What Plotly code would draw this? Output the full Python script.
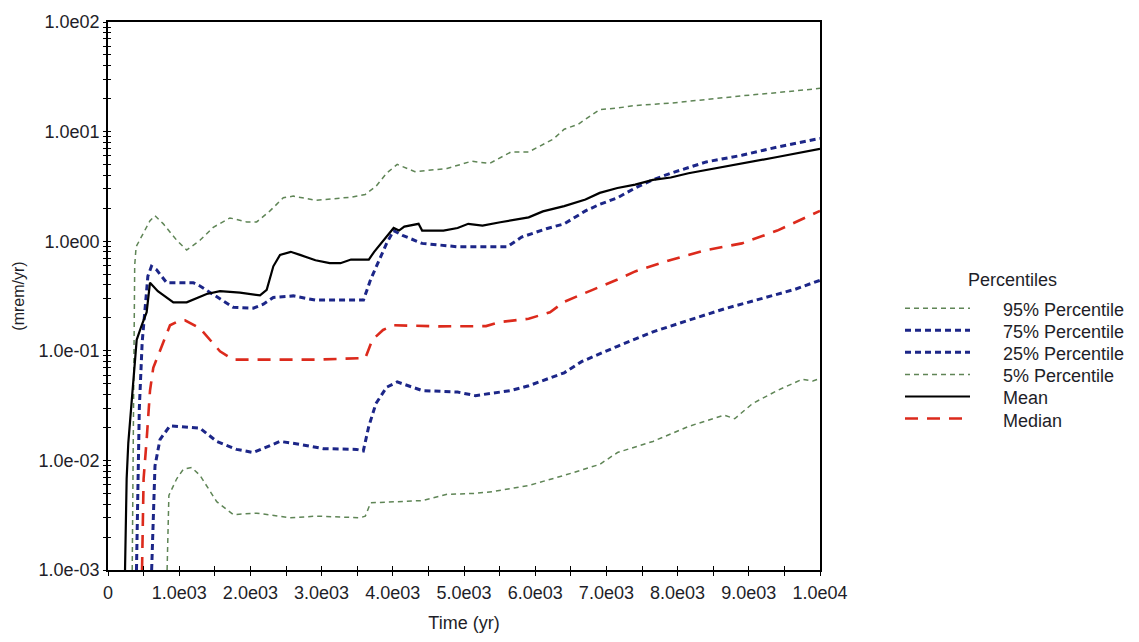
import plotly.graph_objects as go

# ---- dose curves (time in years, dose in mrem/yr) ----
t_p95 = [340, 355, 365, 375, 395, 492, 590, 660, 777, 965, 1105, 1292, 1479, 1713, 1948, 2088,
         2275, 2462, 2603, 2914, 3413, 3613, 3763, 3913, 4062, 4312, 4761, 5110, 5359, 5658,
         5908, 6257, 6407, 6607, 6906, 7155, 7404, 7904, 8403, 8902, 9400, 10000]
p95 = [0.001, 0.03, 0.2, 0.6, 0.89, 1.17, 1.54, 1.71, 1.44, 1.02, 0.83, 1.02, 1.34, 1.63, 1.50, 1.50,
       1.89, 2.49, 2.58, 2.36, 2.52, 2.67, 3.16, 4.17, 5.02, 4.31, 4.61, 5.37, 5.12, 6.51,
       6.51, 8.57, 10.5, 11.7, 15.9, 16.4, 17.3, 18.2, 19.8, 21.2, 22.7, 24.8]

t_p75 = [400, 440, 480, 520, 560, 610, 680, 824, 1198, 1292, 1573, 1760, 2041, 2182, 2322, 2603,
         2914, 3413, 3588, 3688, 3813, 3913, 4012, 4137, 4412, 4910, 5608, 5808, 6157, 6407,
         6706, 6906, 7155, 7404, 7654, 7904, 8403, 8902, 9400, 10000]
p75 = [0.001, 0.03, 0.12, 0.25, 0.48, 0.59, 0.55, 0.418, 0.418, 0.39, 0.296, 0.249, 0.245, 0.266, 0.307, 0.317,
       0.29, 0.29, 0.29, 0.447, 0.675, 0.955, 1.25, 1.13, 0.955, 0.89, 0.89, 1.09, 1.30, 1.44,
       1.89, 2.17, 2.49, 3.06, 3.63, 4.17, 5.29, 6.08, 7.22, 8.67]

t_p25 = [613, 660, 730, 871, 1292, 1527, 1807, 2041, 2416, 2697, 3024, 3492, 3586, 3663, 3763,
         3913, 4062, 4412, 4910, 5160, 5659, 5908, 6407, 6657, 7156, 7654, 8153, 8652, 9151,
         9650, 10000]
p25 = [0.001, 0.0089, 0.0155, 0.0207, 0.0197, 0.0149, 0.0126, 0.0118, 0.0149, 0.014, 0.0128, 0.0126,
       0.0122, 0.0205, 0.033, 0.0465, 0.052, 0.0434, 0.042, 0.039, 0.0434, 0.048, 0.063, 0.080,
       0.11, 0.149, 0.19, 0.241, 0.296, 0.364, 0.44]

t_p05 = [830, 855, 965, 1058, 1175, 1292, 1527, 1760, 2088, 2556, 2931, 3539, 3614, 3688, 4054,
         4412, 4761, 5160, 5409, 5908, 6407, 6906, 7156, 7654, 8153, 8652, 8802, 9052, 9400,
         9750, 9900, 10000]
p05 = [0.001, 0.0048, 0.0068, 0.0083, 0.0086, 0.0073, 0.0042, 0.0032, 0.0033, 0.003, 0.0031, 0.003,
       0.0031, 0.0041, 0.0042, 0.0043, 0.0049, 0.005, 0.0052, 0.0059, 0.0073, 0.0092, 0.0118,
       0.0149, 0.0204, 0.0259, 0.024, 0.033, 0.0434, 0.055, 0.053, 0.056]

t_mean = [239, 262, 285, 333, 403, 473, 543, 590, 700, 918, 1105, 1386, 1573, 1854, 2135, 2229,
          2322, 2416, 2566, 2697, 2914, 3114, 3264, 3413, 3613, 3663, 3738, 3913, 4012, 4087,
          4162, 4362, 4412, 4711, 4910, 5060, 5260, 5509, 5908, 6108, 6407, 6706, 6906, 7155,
          7404, 7654, 7904, 8153, 8403, 8902, 9400, 10000]
mean = [0.001, 0.0068, 0.0144, 0.035, 0.126, 0.171, 0.225, 0.418, 0.35, 0.277, 0.277, 0.33, 0.35,
        0.34, 0.32, 0.36, 0.59, 0.75, 0.80, 0.75, 0.67, 0.63, 0.63, 0.68, 0.675, 0.68, 0.80, 1.09,
        1.32, 1.25, 1.36, 1.44, 1.25, 1.25, 1.32, 1.44, 1.39, 1.49, 1.65, 1.87, 2.09, 2.40, 2.76,
        3.06, 3.28, 3.63, 3.81, 4.17, 4.46, 5.12, 5.86, 6.97]

t_median = [478, 500, 543, 590, 636, 777, 871, 1011, 1081, 1292, 1573, 1760, 2603, 2914, 3614,
            3713, 3863, 4012, 4660, 5309, 5510, 5908, 6208, 6407, 6806, 7156, 7404, 7705, 7904,
            8403, 8902, 9400, 10000]
median = [0.001, 0.0068, 0.0155, 0.0434, 0.07, 0.121, 0.171, 0.19, 0.19, 0.16, 0.099, 0.083, 0.083,
          0.083, 0.086, 0.126, 0.155, 0.171, 0.167, 0.168, 0.183, 0.196, 0.225, 0.28, 0.36, 0.447,
          0.53, 0.61, 0.675, 0.83, 0.955, 1.25, 1.89]

# ---- axis ticks ----
x_ticks = [0, 1000, 2000, 3000, 4000, 5000, 6000, 7000, 8000, 9000, 10000]
x_labels = ["0", "1.0e03", "2.0e03", "3.0e03", "4.0e03", "5.0e03", "6.0e03", "7.0e03",
            "8.0e03", "9.0e03", "1.0e04"]
y_ticks = [1e-3, 1e-2, 1e-1, 1e0, 1e1, 1e2]
y_labels = ["1.0e-03", "1.0e-02", "1.0e-01", "1.0e00", "1.0e01", "1.0e02"]

x_minor = [v + 500 for v in x_ticks[:-1]]
y_minor = [k * d for d in y_ticks[:-1] for k in range(2, 10)]

# ---- figure geometry (pixels) ----
W, H = 1139, 642
ML, MR, MT, MB = 108, 319, 14, 69
PW, PH = W - ML - MR, H - MT - MB

FONT = "Liberation Sans, Arial, sans-serif"
TXT = "#1e1e28"
GREEN = "#5f8556"
BLUE = "#1c2688"
RED = "#dc2a1c"

styles = [
    ("95% Percentile", t_p95, p95, GREEN, 1.5, "5px,4px"),
    ("75% Percentile", t_p75, p75, BLUE, 3.0, "6px,4px"),
    ("25% Percentile", t_p25, p25, BLUE, 3.0, "6px,4px"),
    ("5% Percentile", t_p05, p05, GREEN, 1.5, "5px,4px"),
    ("Mean", t_mean, mean, "#000000", 2.2, "solid"),
    ("Median", t_median, median, RED, 2.6, "13px,9px"),
]

fig = go.Figure()
for name, tx, vy, color, width, dash in styles:
    fig.add_trace(go.Scatter(x=tx, y=vy, mode="lines", name=name, showlegend=False,
                             line=dict(color=color, width=width, dash=dash)))

# helper trace for the overlay axes that draw the inner halves of the ticks
fig.add_trace(go.Scatter(x=[None], y=[None], xaxis="x2", yaxis="y2", showlegend=False,
                         hoverinfo="skip"))

tick_font = dict(family=FONT, size=18, color=TXT)

fig.update_layout(
    width=W, height=H,
    margin=dict(l=ML, r=MR, t=MT, b=MB),
    paper_bgcolor="white", plot_bgcolor="white",
    showlegend=False,
    xaxis=dict(range=[0, 10000], tickmode="array", tickvals=x_ticks, ticktext=x_labels,
               ticks="outside", ticklen=4, tickwidth=1, tickcolor="black",
               minor=dict(tickmode="array", tickvals=x_minor, ticks="outside", ticklen=4,
                          tickwidth=1, tickcolor="black", showgrid=False),
               showline=True, linecolor="black", linewidth=1.5, mirror=True,
               showgrid=False, zeroline=False, tickfont=tick_font, ticklabelstandoff=2,
               title=dict(text="Time (yr)", font=dict(family=FONT, size=18, color=TXT),
                          standoff=14)),
    yaxis=dict(type="log", range=[-3, 2], tickmode="array", tickvals=y_ticks, ticktext=y_labels,
               ticks="outside", ticklen=3, tickwidth=1, tickcolor="black",
               minor=dict(tickmode="array", tickvals=y_minor, ticks="outside", ticklen=3,
                          tickwidth=1, tickcolor="black", showgrid=False),
               showline=True, linecolor="black", linewidth=1.5, mirror=True,
               showgrid=False, zeroline=False, tickfont=tick_font,
               title=dict(text="(mrem/yr)", font=dict(family=FONT, size=16, color=TXT),
                          standoff=10)),
    xaxis2=dict(overlaying="x", anchor="y", side="bottom", range=[0, 10000],
                tickmode="array", tickvals=x_ticks, ticks="inside", ticklen=4, tickwidth=1,
                tickcolor="black",
                minor=dict(tickmode="array", tickvals=x_minor, ticks="inside", ticklen=4,
                           tickwidth=1, tickcolor="black", showgrid=False),
                showticklabels=False, showline=False, showgrid=False, zeroline=False),
    yaxis2=dict(overlaying="y", anchor="x", side="left", type="log", range=[-3, 2],
                tickmode="array", tickvals=y_ticks, ticks="inside", ticklen=3, tickwidth=1,
                tickcolor="black",
                minor=dict(tickmode="array", tickvals=y_minor, ticks="inside", ticklen=3,
                           tickwidth=1, tickcolor="black", showgrid=False),
                showticklabels=False, showline=False, showgrid=False, zeroline=False),
)

# ---- legend block at the right of the plot ----
def px_x(p):
    return (p - ML) / PW

def px_y(p):
    return (H - MB - p) / PH

fig.add_annotation(x=px_x(1012), y=px_y(277), xref="paper", yref="paper", text="Percentiles",
                   showarrow=False, xanchor="center", yanchor="middle",
                   font=dict(family=FONT, size=18, color=TXT))
row0, row_step = 308, 22.5
for i, (name, _tx, _vy, color, width, dash) in enumerate(styles):
    yc = row0 + i * row_step
    fig.add_shape(type="line", xref="paper", yref="paper",
                  x0=px_x(905), x1=px_x(970), y0=px_y(yc - 2), y1=px_y(yc - 2),
                  line=dict(color=color, width=width, dash=dash))
    fig.add_annotation(x=px_x(1001), y=px_y(yc), xref="paper", yref="paper", text=name,
                       showarrow=False, xanchor="left", yanchor="middle",
                       font=dict(family=FONT, size=18, color=TXT))

fig.write_html("out.html")
